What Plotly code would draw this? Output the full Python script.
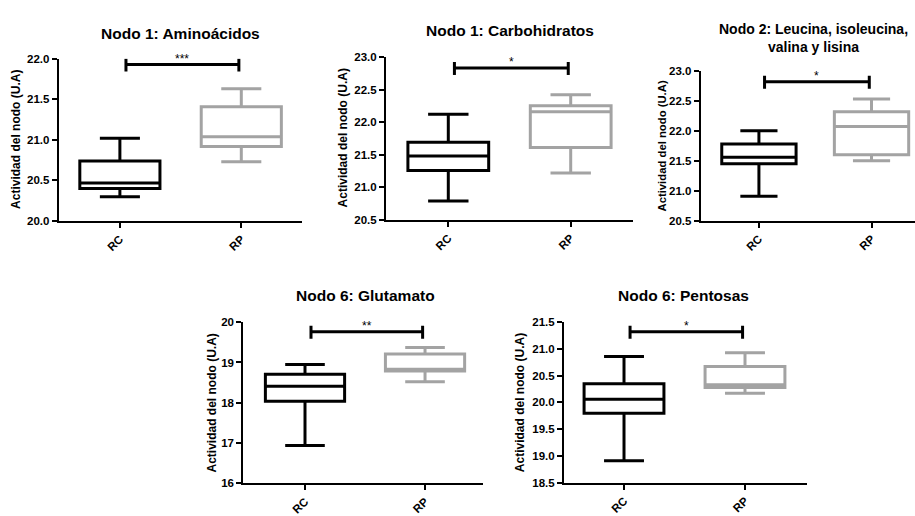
import plotly.graph_objects as go

# ---------------- data ----------------
categories = ["RC", "RP"]
panel_titles = [
    "Nodo 1: Aminoácidos",
    "Nodo 1: Carbohidratos",
    "Nodo 2: Leucina, isoleucina,<br>valina y lisina",
    "Nodo 6: Glutamato",
    "Nodo 6: Pentosas",
]
y_axis_title = "Actividad del nodo (U.A)"

rc_upper = [21.02, 22.12, 22.00, 18.95, 20.86]
rc_q3 = [20.74, 21.69, 21.78, 18.71, 20.35]
rc_median = [20.47, 21.48, 21.56, 18.41, 20.06]
rc_q1 = [20.40, 21.26, 21.45, 18.04, 19.80]
rc_lower = [20.30, 20.79, 20.91, 16.94, 18.91]

rp_upper = [21.63, 22.42, 22.53, 19.37, 20.93]
rp_q3 = [21.41, 22.25, 22.32, 19.21, 20.67]
rp_median = [21.04, 22.16, 22.07, 18.83, 20.33]
rp_q1 = [20.92, 21.61, 21.60, 18.79, 20.28]
rp_lower = [20.73, 21.22, 21.50, 18.52, 20.17]

sig_y = [21.93, 22.83, 22.82, 19.76, 21.32]
sig_labels = ["***", "*", "*", "**", "*"]

y_tick_values = [
    [20.0, 20.5, 21.0, 21.5, 22.0],
    [20.5, 21.0, 21.5, 22.0, 22.5, 23.0],
    [20.5, 21.0, 21.5, 22.0, 22.5, 23.0],
    [16, 17, 18, 19, 20],
    [18.5, 19.0, 19.5, 20.0, 20.5, 21.0, 21.5],
]
y_tick_labels = [
    ["20.0", "20.5", "21.0", "21.5", "22.0"],
    ["20.5", "21.0", "21.5", "22.0", "22.5", "23.0"],
    ["20.5", "21.0", "21.5", "22.0", "22.5", "23.0"],
    ["16", "17", "18", "19", "20"],
    ["18.5", "19.0", "19.5", "20.0", "20.5", "21.0", "21.5"],
]

# ---------------- layout (pixels) ----------------
W, H = 915, 516
# (left, right, top, bottom) of each plot area in pixels
areas = [
    (58.7, 302.0, 54.3, 221.0),
    (386.0, 633.0, 52.3, 220.0),
    (700.7, 915.0, 66.7, 220.7),
    (243.3, 483.0, 325.0, 490.7),
    (564.0, 806.7, 325.0, 490.0),
]
x_ranges = [[-0.504, 1.5], [-0.509, 1.509], [-0.517, 1.386], [-0.514, 1.483], [-0.496, 1.51]]
title_pos = [(180, 28), (510, 25), (813, 33), (365, 298), (683, 298)]
title_sizes = [15.5, 15.5, 14, 15.5, 15.5]
ytitle_x = [16, 343, 661.7, 211.7, 520.7]
ytitle_sizes = [12, 12, 11.3, 12, 12]

FONT = "Arial, Liberation Sans, sans-serif"
BLACK = "#000000"
GRAY = "#A3A3A3"


def px_x(p):
    return p / W


def px_y(p):
    return 1 - p / H


def bold(s):
    return "<b>" + s + "</b>"


fig = go.Figure()
annotations = []
shapes = []

for i in range(5):
    n = "" if i == 0 else str(i + 1)
    xa, ya = "x" + n, "y" + n
    for cat, color, up, q3, med, q1, lo in [
        (categories[0], BLACK, rc_upper, rc_q3, rc_median, rc_q1, rc_lower),
        (categories[1], GRAY, rp_upper, rp_q3, rp_median, rp_q1, rp_lower),
    ]:
        fig.add_trace(go.Box(
            x=[cat], q1=[q1[i]], median=[med[i]], q3=[q3[i]],
            lowerfence=[lo[i]], upperfence=[up[i]],
            xaxis=xa, yaxis=ya,
            width=0.66, whiskerwidth=0.5,
            line=dict(color=color, width=3),
            fillcolor="rgba(255,255,255,0)",
            boxpoints=False, showlegend=False, hoverinfo="skip",
        ))

    l, r, t, b = areas[i]
    axis_common = dict(
        showline=True, linecolor=BLACK, linewidth=2, mirror=False,
        ticks="outside", ticklen=5, tickwidth=2, tickcolor=BLACK,
        showgrid=False, zeroline=False,
        tickfont=dict(family=FONT, size=11.5, color=BLACK),
    )
    yv = y_tick_values[i]
    fig.update_layout(**{
        ("xaxis" + n): dict(
            domain=[px_x(l), px_x(r)], anchor=ya, type="category",
            categoryorder="array", categoryarray=categories,
            tickmode="array", tickvals=categories,
            ticktext=[bold(c) for c in categories],
            range=x_ranges[i], tickangle=-45, **axis_common),
        ("yaxis" + n): dict(
            domain=[px_y(b), px_y(t)], anchor=xa,
            range=[yv[0], yv[-1]],
            tickmode="array", tickvals=yv,
            ticktext=[bold(s) for s in y_tick_labels[i]],
            **axis_common),
    })

    # significance bar
    x0, x1 = 0.05, 0.98
    shapes.append(dict(type="line", xref=xa, yref=ya, x0=x0, x1=x1,
                       y0=sig_y[i], y1=sig_y[i], line=dict(color=BLACK, width=3)))
    for xe in (x0, x1):
        shapes.append(dict(type="line", xref=xa, yref=ya, x0=xe, x1=xe,
                           ysizemode="pixel", yanchor=sig_y[i], y0=-7, y1=6,
                           line=dict(color=BLACK, width=3)))
    annotations.append(dict(
        xref=xa, yref=ya, x=(x0 + x1) / 2, y=sig_y[i], text=sig_labels[i],
        showarrow=False, yanchor="bottom", yshift=-3,
        font=dict(family=FONT, size=12, color=BLACK)))

    # panel title
    tx, ty = title_pos[i]
    annotations.append(dict(
        xref="paper", yref="paper", x=px_x(tx), y=px_y(ty),
        xanchor="center", yanchor="middle", showarrow=False,
        text=bold(panel_titles[i]),
        font=dict(family=FONT, size=title_sizes[i], color=BLACK)))

    # y axis title
    annotations.append(dict(
        xref="paper", yref="paper", x=px_x(ytitle_x[i]), y=px_y((t + b) / 2),
        xanchor="center", yanchor="middle", showarrow=False, textangle=-90,
        text=bold(y_axis_title),
        font=dict(family=FONT, size=ytitle_sizes[i], color=BLACK)))

fig.update_layout(
    width=W, height=H,
    margin=dict(l=0, r=0, t=0, b=0),
    paper_bgcolor="white", plot_bgcolor="white",
    boxmode="overlay",
    annotations=annotations, shapes=shapes,
    font=dict(family=FONT, color=BLACK),
)

fig.write_html("out.html")
